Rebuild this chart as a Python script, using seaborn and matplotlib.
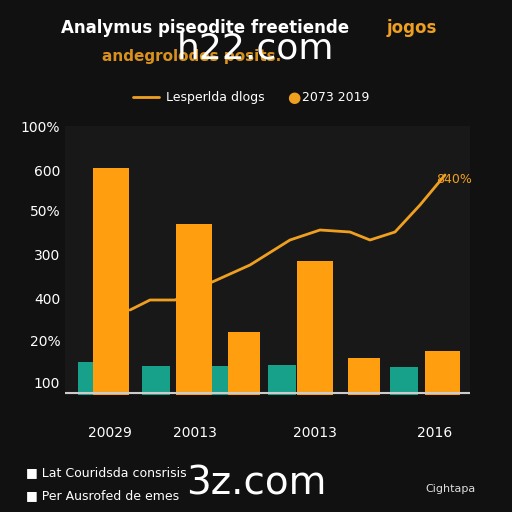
import matplotlib
matplotlib.use("Agg")
import matplotlib.pyplot as plt
import seaborn as sns
import pandas as pd

sns.set_style("dark")
plt.rcParams['font.family'] = ['DejaVu Sans']

orange_x = [111, 194, 244, 315, 364, 442]
orange_w = [36, 36, 32, 36, 32, 35]
orange_h = [227, 171, 63, 134, 37, 44]
teal_x = [86, 156, 220, 282, 404]
teal_w = [17, 28, 16, 28, 28]
teal_h = [33, 29, 29, 30, 28]
line_x = [130, 150, 175, 210, 250, 290, 320, 350, 370, 395, 420, 445]
line_y = [85, 95, 95, 112, 130, 155, 165, 163, 155, 163, 190, 220]
ytick_pos = [12, 54, 97, 141, 184, 225, 269]
ytick_lab = ["100", "20%", "400", "300", "50%", "600", "100%"]
xtick_pos = [110, 195, 315, 435]
xtick_lab = ["20029", "20013", "20013", "2016"]

bg = "#111111"
fig = plt.figure(figsize=(5.12, 5.12), dpi=100, facecolor=bg)
ax = fig.add_axes([65/512, 117/512, 405/512, 269/512], facecolor="#181818")
ax.bar(teal_x, teal_h, width=teal_w, color="#17a08a", edgecolor="none", zorder=2)
df = pd.DataFrame({"x": line_x, "y": line_y})
sns.lineplot(data=df, x="x", y="y", ax=ax, color="#f0a020", lw=2, zorder=3)
ax.bar(orange_x, orange_h, width=orange_w, color="#ff9f10", edgecolor="none", zorder=4)
ax.set_xlim(65, 470); ax.set_ylim(0, 269)
ax.set_yticks(ytick_pos, ytick_lab)
ax.set_xticks(xtick_pos, xtick_lab)
ax.tick_params(colors="white", labelsize=10, length=0)
ax.tick_params(axis='x', pad=22)
ax.set_xlabel(""); ax.set_ylabel("")
ax.grid(False)
for s in ax.spines.values(): s.set_visible(False)
ax.axhline(2, color="#cccccc", lw=1.5, zorder=5)
ax.text(436, 212, "840%", color="#f0a020", fontsize=9)

fig.text(0.12, 0.935, "Analymus piseodite freetiende", color="white", fontsize=12, fontweight="bold")
fig.text(0.755, 0.935, "jogos", color="#f0a020", fontsize=12, fontweight="bold")
fig.text(0.2, 0.88, "andegrolodes posits.", color="#f0a020", fontsize=11, fontweight="bold", alpha=0.9)
fig.text(0.5, 0.905, "h22.com", color="white", fontsize=26, ha="center", va="center", zorder=10)
fig.lines.append(plt.Line2D([0.26, 0.31], [0.81, 0.81], transform=fig.transFigure, color="#f0a020", lw=2))
fig.text(0.325, 0.81, "Lesperlda dlogs", color="white", fontsize=9, va="center")
fig.text(0.56, 0.81, "●", color="#f0a020", fontsize=11, va="center")
fig.text(0.59, 0.81, "2073 2019", color="white", fontsize=9, va="center")
fig.text(0.05, 0.07, "■ Lat Couridsda consrisis", color="white", fontsize=9)
fig.text(0.05, 0.025, "■ Per Ausrofed de emes", color="white", fontsize=9)
fig.text(0.5, 0.055, "3z.com", color="white", fontsize=28, ha="center", va="center")
fig.text(0.83, 0.04, "Cightapa", color="#dddddd", fontsize=8)
fig.savefig("out.png", dpi=100, facecolor=bg)
